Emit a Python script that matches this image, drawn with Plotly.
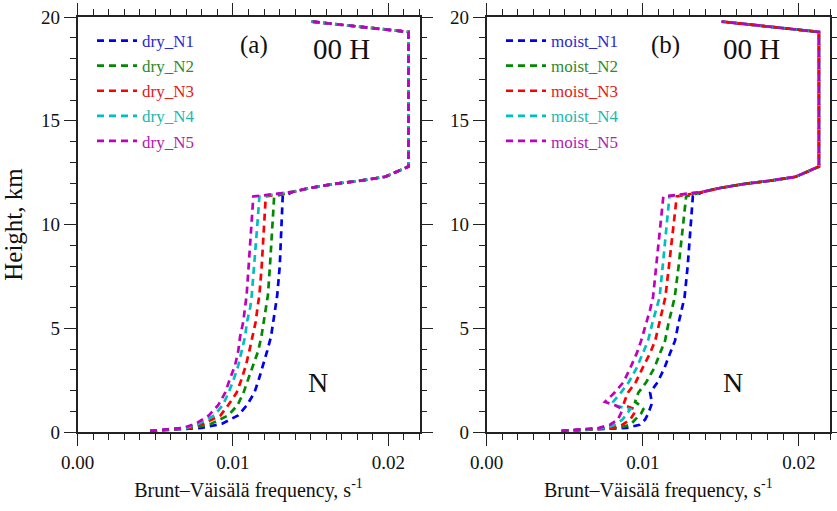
import plotly.graph_objects as go

# ---------------- data ----------------
dry_h = [0.05, 0.2, 0.4, 0.8, 1.3, 1.9, 2.5, 3.2, 3.9, 4.6, 5.3, 6.0, 6.6, 8.0, 10.0, 11.35]
dry_N1 = [0.00467, 0.0080, 0.0093, 0.01033, 0.01091, 0.01138, 0.01165, 0.01195, 0.01220, 0.01245, 0.01258, 0.01270, 0.01285, 0.01301, 0.01313, 0.01320]
dry_N2 = [0.00467, 0.0075, 0.0086, 0.0097, 0.0103, 0.01068, 0.01096, 0.01131, 0.01162, 0.01183, 0.01199, 0.01212, 0.01225, 0.01238, 0.01252, 0.01265]
dry_N3 = [0.00467, 0.0072, 0.0081, 0.0092, 0.0097, 0.01024, 0.01053, 0.01083, 0.01105, 0.01127, 0.01146, 0.01158, 0.01170, 0.01185, 0.01200, 0.01211]
dry_N4 = [0.00467, 0.0070, 0.0078, 0.0088, 0.00935, 0.00972, 0.01003, 0.01034, 0.01056, 0.01078, 0.01090, 0.01111, 0.01121, 0.01137, 0.01157, 0.01170]
dry_N5 = [0.00467, 0.0068, 0.0076, 0.00845, 0.00906, 0.00950, 0.00978, 0.01013, 0.01034, 0.01046, 0.01066, 0.01078, 0.01088, 0.01101, 0.01119, 0.01131]

moist_h = [0.05, 0.2, 0.35, 0.6, 0.9, 1.1, 1.3, 1.45, 1.9, 2.4, 3.1, 3.8, 4.4, 5.2, 5.9, 6.5, 8.0, 10.0, 11.35]
moist_N1 = [0.0048, 0.0090, 0.0098, 0.01015, 0.01036, 0.01047, 0.01055, 0.01058, 0.01047, 0.01095, 0.01140, 0.01175, 0.01207, 0.01228, 0.01250, 0.01268, 0.01288, 0.01309, 0.01321]
moist_N2 = [0.0048, 0.0085, 0.0092, 0.00955, 0.00990, 0.01004, 0.00980, 0.00951, 0.00972, 0.01022, 0.01075, 0.01111, 0.01143, 0.01164, 0.01186, 0.01205, 0.01230, 0.01259, 0.01278]
moist_N3 = [0.0048, 0.0081, 0.0087, 0.0092, 0.00945, 0.00951, 0.00876, 0.00882, 0.00905, 0.00955, 0.01000, 0.01047, 0.01080, 0.01105, 0.01124, 0.01145, 0.01168, 0.01198, 0.01218]
moist_N4 = [0.0048, 0.0077, 0.0082, 0.0087, 0.0090, 0.0092, 0.0081, 0.0081, 0.0086, 0.0091, 0.00962, 0.01002, 0.01034, 0.01060, 0.01085, 0.01108, 0.01128, 0.01154, 0.01171]
moist_N5 = [0.0048, 0.0072, 0.0079, 0.0084, 0.0086, 0.0087, 0.0082, 0.00758, 0.0082, 0.00876, 0.00921, 0.00962, 0.00990, 0.01023, 0.01047, 0.01066, 0.01087, 0.01114, 0.01132]

# common upper part (tropopause / stratosphere), shared by every profile
upper_h = [11.58, 11.76, 11.95, 12.11, 12.30, 12.79, 19.28, 19.78]
upper_N = [0.01388, 0.01496, 0.01644, 0.01817, 0.01980, 0.02129, 0.02129, 0.01505]

dry_names = ["dry_N1", "dry_N2", "dry_N3", "dry_N4", "dry_N5"]
moist_names = ["moist_N1", "moist_N2", "moist_N3", "moist_N4", "moist_N5"]
x_tickvals = [0.0, 0.01, 0.02]
x_ticktext = ["0.00", "0.01", "0.02"]
y_tickvals = [0, 5, 10, 15, 20]

# ---------------- style ----------------
line_colors = ["#0000ee", "#008a00", "#ff0000", "#00bfbf", "#c000c0"]
text_colors = ["#2a2ad0", "#2e8b2e", "#e02020", "#20b8b0", "#b020b0"]
FONT = "Liberation Serif, Times New Roman, serif"

fig = go.Figure()

dry_series = [dry_N1, dry_N2, dry_N3, dry_N4, dry_N5]
moist_series = [moist_N1, moist_N2, moist_N3, moist_N4, moist_N5]

for i, (nm, xs) in enumerate(zip(dry_names, dry_series)):
    fig.add_trace(go.Scatter(
        x=xs + upper_N, y=dry_h + upper_h, mode="lines",
        line=dict(color=line_colors[i], width=2.7, dash="7px,5px"),
        name=f"<span style='color:{text_colors[i]}'>{nm}</span>",
        xaxis="x", yaxis="y", legend="legend"))

for i, (nm, xs) in enumerate(zip(moist_names, moist_series)):
    fig.add_trace(go.Scatter(
        x=xs + upper_N, y=moist_h + upper_h, mode="lines",
        line=dict(color=line_colors[i], width=2.7, dash="7px,5px"),
        name=f"<span style='color:{text_colors[i]}'>{nm}</span>",
        xaxis="x2", yaxis="y2", legend="legend2"))

W, H = 837, 511
ytop = 1 - 17 / H
ybot = 1 - 432 / H
dom1 = [77.5 / W, 419.5 / W]
dom2 = [486.7 / W, 830.0 / W]

def xaxis_cfg(domain, anchor):
    return dict(
        domain=domain, anchor=anchor, range=[0, 0.022], automargin=False,
        tickvals=x_tickvals, ticktext=x_ticktext,
        ticks="outside", ticklen=12, tickwidth=1.4, tickcolor="#222",
        minor=dict(dtick=0.001, tick0=0, ticks="outside", ticklen=6, tickwidth=1.2, tickcolor="#222"),
        showline=True, linecolor="#222", linewidth=1.6, mirror="allticks",
        showgrid=False, zeroline=False,
        tickfont=dict(family=FONT, size=19, color="#111"),
        title=dict(text="Brunt–Väisälä frequency, s<sup>-1</sup>",
                   font=dict(family=FONT, size=20, color="#111"), standoff=11),
    )

def yaxis_cfg(anchor, title):
    d = dict(
        domain=[ybot, ytop], anchor=anchor, range=[0, 20], automargin=False,
        tickvals=y_tickvals,
        ticks="outside", ticklen=12, tickwidth=1.4, tickcolor="#222",
        minor=dict(dtick=1, tick0=0, ticks="outside", ticklen=6, tickwidth=1.2, tickcolor="#222"),
        showline=True, linecolor="#222", linewidth=1.6, mirror="allticks",
        showgrid=False, zeroline=False,
        tickfont=dict(family=FONT, size=19, color="#111"),
    )
    if title:
        d["title"] = dict(text=title, font=dict(family=FONT, size=25, color="#111"), standoff=11)
    return d

legend_common = dict(
    bgcolor="rgba(0,0,0,0)", borderwidth=0,
    font=dict(family=FONT, size=17),
    xanchor="left", yanchor="top", itemwidth=40,
)

fig.update_layout(
    width=W, height=H,
    margin=dict(l=0, r=0, t=0, b=0),
    paper_bgcolor="white", plot_bgcolor="white",
    xaxis=xaxis_cfg(dom1, "y"),
    yaxis=yaxis_cfg("x", "Height, km"),
    xaxis2=xaxis_cfg(dom2, "y2"),
    yaxis2=yaxis_cfg("x2", None),
    legend=dict(x=92 / W, y=1 - 23 / H, **legend_common),
    legend2=dict(x=(92 + 409) / W, y=1 - 23 / H, **legend_common),
    showlegend=True,
)

annots = [
    ("(a)", 254, 45, 25),
    ("00 H", 341, 49, 29),
    ("N", 318, 382, 28),
    ("(b)", 665, 45, 25),
    ("00 H", 751, 49, 29),
    ("N", 733, 382, 28),
]
for txt, px, py, fs in annots:
    fig.add_annotation(
        text=txt, xref="paper", yref="paper",
        x=px / W, y=1 - py / H, xanchor="center", yanchor="middle",
        showarrow=False, font=dict(family=FONT, size=fs, color="#111"))

fig.write_html("out.html")
